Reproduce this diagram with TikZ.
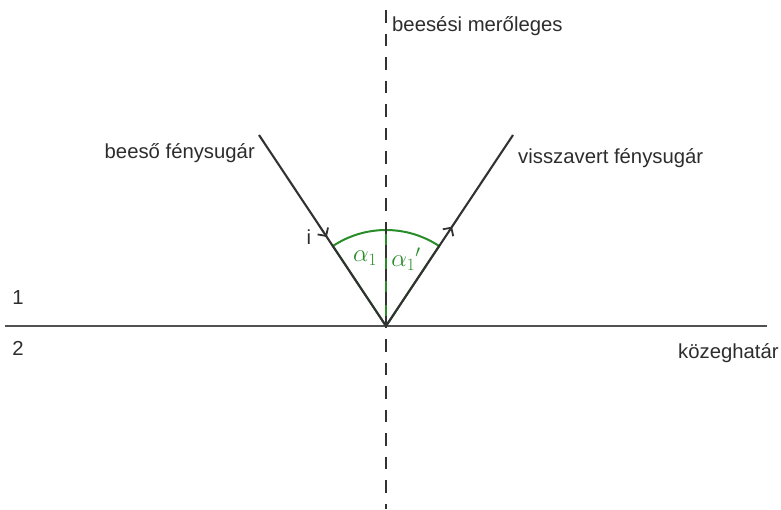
\documentclass[tikz,border=0pt]{standalone}
\usepackage{fontspec}
\setmainfont{Liberation Sans}
\usetikzlibrary{arrows.meta,decorations.markings}
\definecolor{raycol}{RGB}{50,50,50}
\definecolor{txtcol}{RGB}{45,45,45}
\definecolor{anggreen}{RGB}{40,140,40}
\tikzset{
  ray/.style={draw=raycol, line width=2.1pt},
  boundary/.style={draw=raycol!85!white, line width=2.3pt},
  normalline/.style={draw=raycol, line width=2.3pt, dash pattern=on 12.5pt off 11pt},
  lbl/.style={font=\fontsize{20.3}{23}\selectfont, text=txtcol, inner sep=0pt},
  anglbl/.style={font=\fontsize{25}{27}\selectfont, text=anggreen, inner sep=0pt},
  greenline/.style={draw=anggreen, line width=2pt},
  midarrow/.style={postaction={decorate, decoration={markings,
     mark=at position #1 with {\arrow[raycol, line width=1.8pt]{Straight Barb[length=6pt, width=12.5pt]}}}}}
}
\begin{document}
\begin{tikzpicture}[x=1pt, y=-1pt]
\useasboundingbox (0,0) rectangle (781,509);
% points
\coordinate (O) at (386,326);
\coordinate (A) at (259,135);
\coordinate (B) at (513,135);
\coordinate (L) at (5,326);
\coordinate (R) at (767,326);
\coordinate (T) at (386,10);
\coordinate (D) at (386,509);
% green angle sector
\draw[greenline] (O) -- ++(-123.6:96) arc[start angle=-123.6, end angle=-56.4, radius=96] -- (O);
\draw[greenline] (O) -- ++(-90:95);
% boundary
\draw[boundary] (L) -- (R);
% rays
\draw[ray, midarrow=0.534] (A) -- (O);
\draw[ray, midarrow=0.52] (O) -- (B);
% normal
\draw[normalline] (T) -- (D);
% labels
\node[lbl, anchor=base west] (tn) at (392,31) {beesési merőleges};
\node[lbl, anchor=base east] (ti) at (255,158) {beeső fénysugár};
\node[lbl, anchor=base west] (tr) at (518,163) {visszavert fénysugár};
\node[lbl, anchor=base west] (tk) at (678,358) {közeghatár};
\node[lbl] (m1) at (18,298) {1};
\node[lbl] (m2) at (18,348) {2};
\node[lbl] (ii) at (309,237) {i};
\node[anglbl] (a1) at (365,258) {$\alpha_1$};
\node[anglbl] (a2) at (406,259) {$\alpha_1{}'$};
\end{tikzpicture}
\end{document}
